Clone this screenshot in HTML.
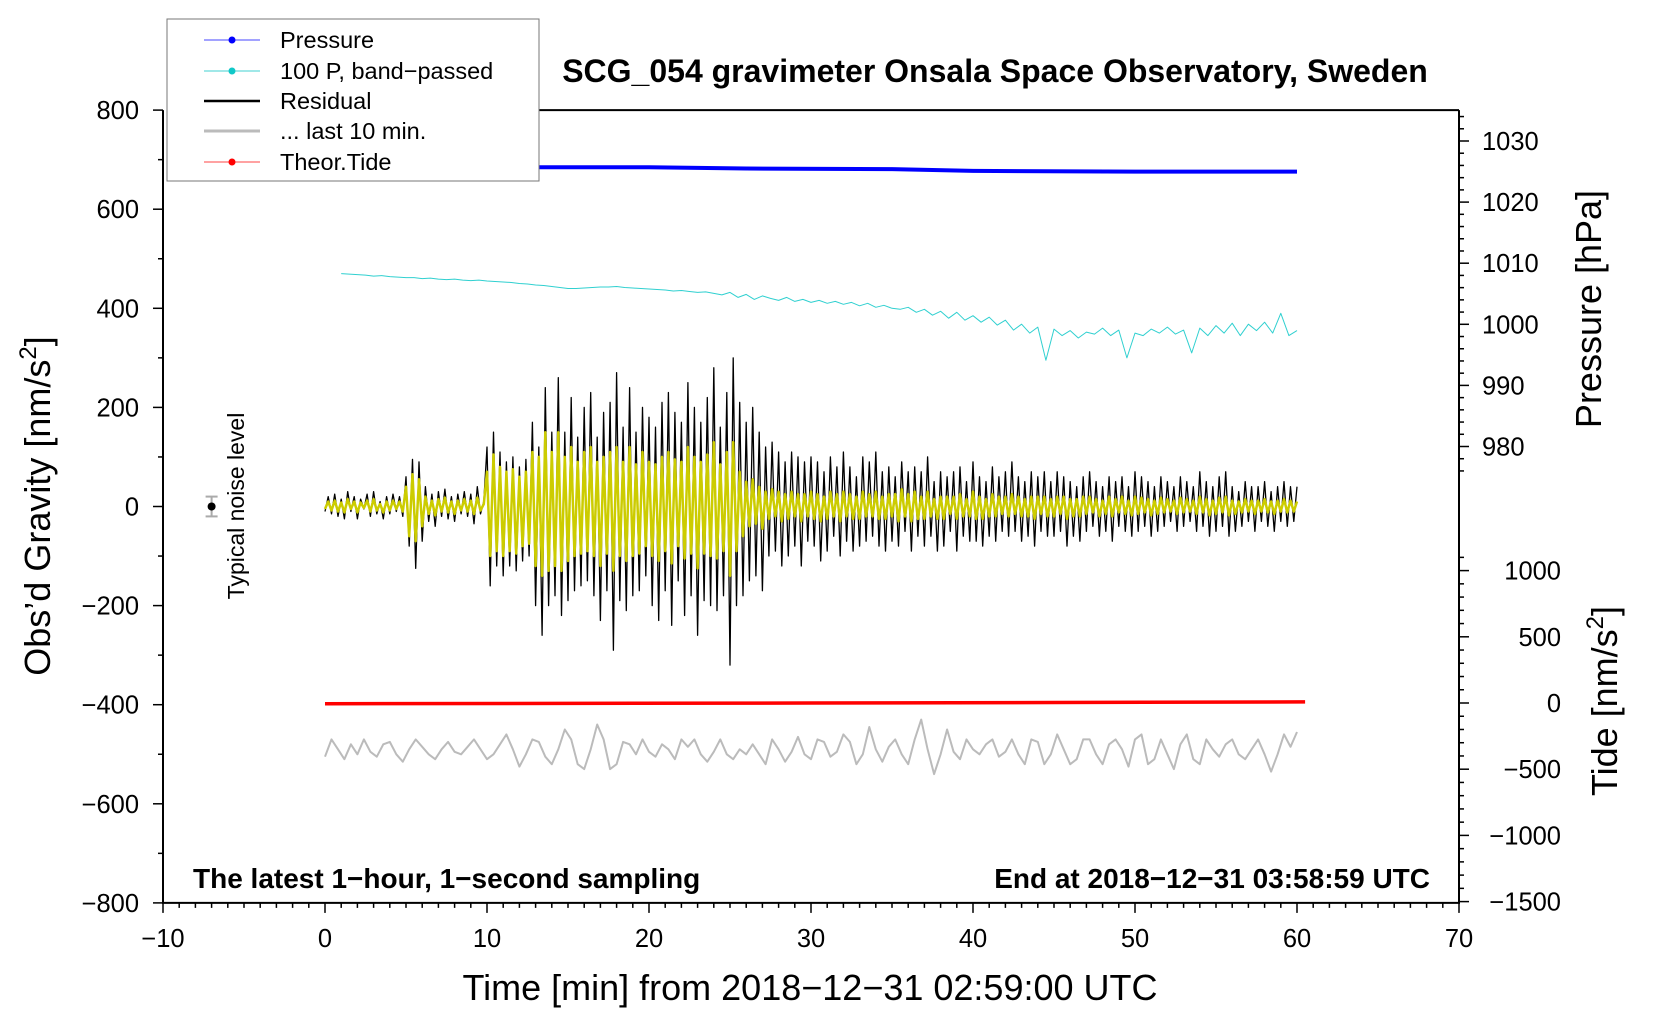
<!DOCTYPE html>
<html><head><meta charset="utf-8"><style>
html,body{margin:0;padding:0;background:#fff;}
svg{display:block;font-family:"Liberation Sans",Arial,sans-serif;}
</style></head><body>
<svg id="chart" width="1660" height="1020" viewBox="0 0 1660 1020" xmlns="http://www.w3.org/2000/svg">
<g id="series"></g>
<g id="axes"></g>
<text x="995" y="82" font-size="32" font-weight="bold" text-anchor="middle">SCG_054 gravimeter Onsala Space Observatory, Sweden</text>
<text x="810" y="1000" font-size="36" text-anchor="middle">Time [min] from 2018−12−31 02:59:00 UTC</text>
<text transform="translate(50,506) rotate(-90)" font-size="36" text-anchor="middle">Obs’d Gravity [nm/s<tspan font-size="24" dy="-14">2</tspan><tspan dy="14">]</tspan></text>
<text transform="translate(1601,309) rotate(-90)" font-size="36" text-anchor="middle">Pressure [hPa]</text>
<text transform="translate(1617,701) rotate(-90)" font-size="36" text-anchor="middle">Tide [nm/s<tspan font-size="24" dy="-14">2</tspan><tspan dy="14">]</tspan></text>
<text transform="translate(244,506) rotate(-90)" font-size="23" text-anchor="middle">Typical noise level</text>
<text x="193" y="888" font-size="28" font-weight="bold">The latest 1−hour, 1−second sampling</text>
<text x="1430" y="888" font-size="28" font-weight="bold" text-anchor="end">End at 2018−12−31 03:58:59 UTC</text>
<g>
<rect x="167" y="19" width="372" height="162" fill="#fff" stroke="#777" stroke-width="1"/>
<g><line x1="204" y1="40" x2="260" y2="40" stroke="#4444ff" stroke-width="1"/><circle cx="232" cy="40" r="3.5" fill="#0000ff"/><text x="280" y="48" font-size="23.5">Pressure</text></g>
<g><line x1="204" y1="71" x2="260" y2="71" stroke="#40d0d0" stroke-width="1"/><circle cx="232" cy="71" r="3.5" fill="#10c8c8"/><text x="280" y="79" font-size="23.5">100 P, band−passed</text></g>
<g><line x1="204" y1="101" x2="260" y2="101" stroke="#000" stroke-width="2.5"/><text x="280" y="109" font-size="23.5">Residual</text></g>
<g><line x1="204" y1="131" x2="260" y2="131" stroke="#bbb" stroke-width="3"/><text x="280" y="139" font-size="23.5">... last 10 min.</text></g>
<g><line x1="204" y1="162" x2="260" y2="162" stroke="#ff4444" stroke-width="1"/><circle cx="232" cy="162" r="3.5" fill="#ff0000"/><text x="280" y="170" font-size="23.5">Theor.Tide</text></g>
</g>
</svg>
<script>
const xTicks=[-10,0,10,20,30,40,50,60,70];
const gTicks=[800,600,400,200,0,-200,-400,-600,-800];
const pTicks=[1030,1020,1010,1000,990,980];
const tTicks=[1000,500,0,-500,-1000,-1500];
const residual=[
-10,20,-15,25,-20,15,-25,30,-10,20,-25,15,-5,25,-20,30,-15,10,-25,20,-15,25,-10,20,-20,
60,-80,95,-125,90,-70,40,-30,25,-40,30,-20,35,-25,20,-30,25,-15,30,-20,25,-35,40,-15,10,
120,-160,150,-120,110,-140,90,-120,100,-130,80,-110,95,-100,170,-200,120,-260,240,-200,150,-180,260,-220,150,
-190,220,-170,140,-160,200,-150,230,-180,140,-230,190,-170,210,-290,270,-190,160,-210,240,-180,150,-170,200,-140,
180,-200,160,-230,210,-170,230,-240,190,-150,170,-220,250,-180,200,-260,170,-190,220,-200,280,-210,160,-180,230,
-320,300,-200,210,-180,170,-150,200,-140,150,-170,120,-100,130,-90,110,-120,90,-100,110,-80,100,-120,90,-70,
100,-80,90,-110,70,-90,100,-60,80,-100,110,-70,80,-90,60,-80,100,-70,90,-60,110,-80,70,-90,80,
-70,60,-80,90,-50,70,-90,80,-60,70,-80,100,-60,50,-90,70,-80,60,-50,70,-90,80,-60,50,-70,
90,-70,60,-80,50,-60,80,-70,60,-50,70,-60,90,-50,60,-70,50,-60,70,-80,60,-50,70,-60,50,
-60,70,-50,60,-80,50,-60,40,-70,60,-50,70,-40,50,-60,40,-50,60,-70,50,-40,60,-50,40,-60,
70,-50,60,-40,50,-60,40,-50,60,-40,50,-30,40,-50,60,-40,50,-30,40,-50,70,-40,50,-60,40,
-50,60,-40,70,-60,40,-50,30,-40,50,-30,40,-50,40,-30,50,-40,30,-50,40,-30,50,-40,40,-30,40];
const filtered=[
-5,10,-8,12,-10,8,-12,15,-5,10,-12,8,-3,12,-10,15,-8,5,-12,10,-8,12,-5,10,-10,
40,-60,65,-70,55,-40,20,-15,12,-18,15,-10,18,-12,10,-15,12,-8,15,-10,12,-15,18,-8,5,
70,-100,105,-90,80,-100,70,-90,75,-95,60,-80,70,-75,110,-120,100,-140,150,-130,110,-120,150,-130,100,
-110,120,-100,90,-95,110,-90,120,-100,90,-120,100,-95,110,-130,120,-100,90,-110,120,-100,85,-95,110,-80,
90,-100,85,-110,100,-90,110,-115,95,-80,90,-105,120,-95,100,-125,90,-95,105,-100,130,-105,85,-90,110,
-140,130,-90,70,-60,50,-40,55,-35,40,-45,30,-25,35,-20,30,-30,25,-25,30,-20,25,-30,25,-20,
30,-25,25,-30,20,-25,30,-20,25,-30,30,-20,25,-25,20,-25,30,-20,25,-20,30,-25,20,-25,25,
-20,25,-30,35,-20,25,-30,30,-25,20,-25,30,-20,15,-25,20,-25,20,-15,20,-25,25,-20,15,-20,
30,-25,20,-25,15,-20,25,-20,20,-15,20,-20,25,-15,20,-20,15,-20,20,-25,20,-15,20,-20,15,
-20,20,-15,20,-25,15,-20,15,-20,20,-15,20,-12,15,-20,12,-15,20,-20,15,-12,20,-15,12,-18,
20,-15,18,-12,15,-18,12,-15,18,-12,15,-10,12,-15,18,-12,15,-10,12,-15,20,-12,15,-18,12,
-15,18,-12,20,-18,12,-15,10,-12,15,-10,12,-15,12,-10,15,-12,10,-15,12,-10,15,-12,12,-10,10];
const bandP=[470,469,468,467,465,466,464,463,462,
462,460,461,459,458,459,457,456,457,455,
454,453,452,450,449,447,446,444,442,440,
440,441,442,443,443,444,442,441,440,439,
438,437,435,436,434,432,433,430,427,432,
422,428,418,425,420,416,422,414,418,412,
416,410,414,408,412,405,410,402,406,400,
398,402,392,398,386,394,380,392,376,385,
372,382,366,376,356,368,350,362,295,358,
345,355,340,352,348,360,345,356,300,350,
345,358,350,362,348,356,310,360,345,365,
350,370,345,368,355,372,350,390,345,355];
const last10=[
-505,-470,-490,-510,-480,-500,-470,-495,-505,-480,-475,-500,-515,-490,-470,-485,-500,-510,-490,-475,
-495,-500,-485,-470,-490,-510,-500,-480,-460,-490,-525,-500,-470,-475,-505,-520,-490,-450,-470,-520,
-530,-490,-440,-470,-530,-520,-475,-480,-500,-470,-495,-505,-480,-490,-510,-470,-485,-470,-500,-515,
-495,-470,-500,-510,-490,-500,-480,-500,-520,-470,-490,-515,-495,-465,-500,-510,-470,-475,-505,-495,
-460,-475,-520,-500,-445,-490,-515,-485,-470,-500,-520,-470,-430,-490,-540,-500,-450,-495,-510,-470,
-490,-500,-480,-470,-505,-495,-470,-500,-520,-470,-475,-520,-500,-460,-490,-520,-510,-470,-470,-500,
-520,-480,-470,-490,-525,-470,-460,-520,-510,-470,-500,-530,-480,-460,-510,-520,-470,-490,-505,-480,
-470,-500,-510,-490,-470,-500,-535,-500,-460,-485,-455];
const pressT=[0,10,20,26,35,40,50,60];
const pressV=[1025.8,1025.7,1025.7,1025.5,1025.4,1025.1,1025.0,1025.0];
const tideT=[0,15,30,45,60.5];
const tideV=[-5,-3,0,4,8];

const NS="http://www.w3.org/2000/svg";
const X=t=>325+(t)*16.2;
const YG=v=>506.5-v*99.1/200;
const YP=p=>141+(1030-p)*6.11;
const YT=v=>703-v*66.2/500;
const S=document.getElementById('series'), A=document.getElementById('axes');
function el(tag,attrs,parent){const e=document.createElementNS(NS,tag);for(const k in attrs)e.setAttribute(k,attrs[k]);parent.appendChild(e);return e;}
function path(xs,ys,stroke,w,name){
  let d='';for(let i=0;i<xs.length;i++)d+=(i?'L':'M')+xs[i].toFixed(1)+' '+ys[i].toFixed(1);
  const p=el('path',{d:d,fill:'none',stroke:stroke,'stroke-width':w,'stroke-linejoin':'round'},S);
  
  
}
path(last10.map((v,i)=>X(i*0.4)),last10.map(YG),'#bbbbbb',2,'last-10-min-line');
path(bandP.map((v,i)=>X(1+i*0.5)),bandP.map(YG),'#30d0d0',1,'bandpassed-pressure-line');
path(residual.map((v,i)=>X(i*0.2)),residual.map(YG),'#000',1.3,'residual-line');
path(filtered.map((v,i)=>X(i*0.2)),filtered.map(YG),'#cccc00',2.5,'filtered-gravity-line');
path(pressT.map(X),pressV.map(YP),'#0000ff',4,'pressure-line');
path(tideT.map(X),tideV.map(YT),'#ff0000',3.5,'tide-line');
const nb=el('g',{},S);


el('line',{x1:X(-7),x2:X(-7),y1:YG(20),y2:YG(-20),stroke:'#aaa','stroke-width':2},nb);
el('line',{x1:X(-7)-6,x2:X(-7)+6,y1:YG(20),y2:YG(20),stroke:'#aaa','stroke-width':2},nb);
el('line',{x1:X(-7)-6,x2:X(-7)+6,y1:YG(-20),y2:YG(-20),stroke:'#aaa','stroke-width':2},nb);
el('circle',{cx:X(-7),cy:YG(0),r:4,fill:'#000'},nb);

const L=X(-10),R=X(70),T=YG(800),B=YG(-800);
const fr=el('path',{d:`M${L} ${T}L${L} ${B}L${R} ${B}L${R} ${T}`,fill:'none',stroke:'#000','stroke-width':2},A);


const tp=el('line',{x1:539,x2:R,y1:T,y2:T,stroke:'#000','stroke-width':2},A);


function tick(x1,y1,x2,y2){el('line',{x1,y1,x2,y2,stroke:'#000','stroke-width':1.5},A);}
function label(x,y,s,anchor,name){const t=el('text',{x,y,'font-size':25.5,'text-anchor':anchor},A);t.textContent=s;
  
  }
const fmt=v=>String(v).replace('-','−');
for(let t=-10;t<=70;t++){const x=X(t);tick(x,B,x,B+(t%10===0?10:5));}
xTicks.forEach(t=>label(X(t),947,fmt(t),'middle','x-tick-label'));
for(let v=-800;v<=800;v+=100){const y=YG(v);tick(L,y,L-(v%200===0?10:5),y);}
gTicks.forEach(v=>label(139,YG(v)+9,fmt(v),'end','gravity-tick-label'));
for(let p=976;p<=1034;p+=2){const y=YP(p);if(y<T||y>YP(976))continue;tick(R,y,R+(p%10===0?10:5),y);}
pTicks.forEach(p=>label(1482,YP(p)+9,fmt(p),'start','pressure-tick-label'));
for(let v=-1500;v<=1100;v+=100){const y=YT(v);if(y>B)continue;tick(R,y,R+(v%500===0?10:5),y);}
tTicks.forEach(v=>label(1561,YT(v)+9,fmt(v),'end','tide-tick-label'));
</script>
</body></html>
